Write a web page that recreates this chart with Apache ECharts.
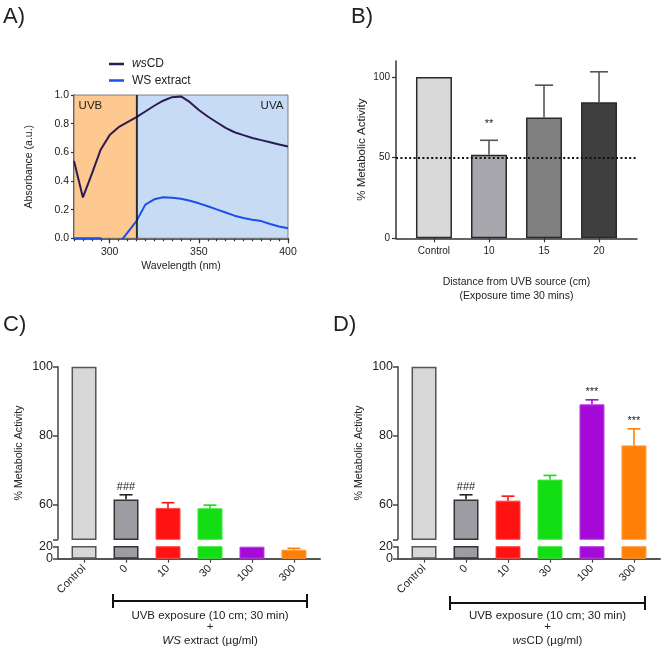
<!DOCTYPE html>
<html><head><meta charset="utf-8">
<script src="https://cdn.jsdelivr.net/npm/echarts@6/dist/echarts.min.js"></script>
<style>html,body{margin:0;padding:0;background:#fff}#c{width:661px;height:648px}</style>
</head><body><div id="c"></div>
<script>
// ---------- DATA ----------
const wavelengths = [280,285,290,295,300,305,310,315,320,325,330,335,340,345,350,355,360,365,370,375,380,385,390,395,400];
const wsCDAbs = [0.54,0.285,0.45,0.62,0.72,0.775,0.81,0.845,0.885,0.925,0.96,0.985,0.99,0.95,0.895,0.85,0.81,0.77,0.74,0.72,0.70,0.685,0.67,0.655,0.64];
const wsExtractAbs = [0,0,0,0,-0.1,-0.04,0.04,0.12,0.235,0.272,0.286,0.283,0.276,0.262,0.244,0.224,0.202,0.18,0.158,0.142,0.13,0.12,0.1,0.082,0.07];
const uvbRange = [280, 315];
const uvaRange = [315, 400];
const absTicks = [0, 0.2, 0.4, 0.6, 0.8, 1.0];
const wlLabels = [300, 350, 400];

const distCats = ['Control', '10', '15', '20'];
const distValues = [100, 51.9, 74.9, 84.4];
const distErrTop = [null, 60.8, 95.0, 103.3];
const distMarks = ['', '**', '', ''];
const distTicks = [0, 50, 100];
const halfLine = 50;

const doseCats = ['Control', '0', '10', '30', '100', '300'];
const extractValues = [100, 61.5, 59.1, 59.0, 20, 15];
const extractErrTop = [null, 62.9, 60.6, 59.9, null, 17.3];
const extractMarks = ['', '###', '', '', '', ''];
const cdValues = [100, 61.5, 61.2, 67.3, 89.1, 77.2];
const cdErrTop = [null, 62.9, 62.5, 68.5, 90.4, 82.0];
const cdMarks = ['', '###', '', '', '***', '***'];
const upperTicks = [60, 80, 100];
const lowerTicks = [0, 20];

// ---------- STYLE ----------
const FONT = '"Liberation Sans", Arial, sans-serif';
const TXT = '#222';
const AX = '#333';
const distColors = ['#d9d9d9', '#a7a6ac', '#808080', '#3f3f3f'];
const doseColors = ['#d7d7d7', '#9d9ca2', '#ff1212', '#13dd13', '#a60ad8', '#ff8004'];
const doseBorders = ['#555', '#333', '#ff4a4a', '#3fe83f', '#b83ee0', '#ff9a3a'];
const doseErrColors = ['#333', '#222', '#ff1212', '#13dd13', '#a60ad8', '#ff8004'];

const chart = echarts.init(document.getElementById('c'), null, {renderer: 'canvas'});

function errSeries(xi, yi, values, tops, marks, colors, capW, lo, hi, markGap) {
  const data = [];
  values.forEach((v, i) => {
    if (tops[i] != null && v >= lo && v <= hi) data.push([i, v, Math.min(tops[i], hi)]);
  });
  return {
    type: 'custom', xAxisIndex: xi, yAxisIndex: yi, z: 4, silent: true, clip: false,
    encode: {x: 0, y: [1, 2]},
    data: data,
    renderItem: function (params, api) {
      const x = api.value(0), v = api.value(1), t = api.value(2);
      const p0 = api.coord([x, v]), p1 = api.coord([x, t]);
      const c = Array.isArray(colors) ? colors[x] : colors;
      const children = [
        {type: 'line', shape: {x1: p0[0], y1: p0[1], x2: p1[0], y2: p1[1]}, style: {stroke: c, lineWidth: 1.6}},
        {type: 'line', shape: {x1: p1[0] - capW / 2, y1: p1[1], x2: p1[0] + capW / 2, y2: p1[1]}, style: {stroke: c, lineWidth: 1.6}}
      ];
      if (marks && marks[x]) {
        children.push({type: 'text', x: p1[0], y: p1[1] - markGap,
          style: {text: marks[x], fill: TXT, fontSize: 11, fontFamily: FONT, align: 'center', verticalAlign: 'bottom'}});
      }
      return {type: 'group', children: children};
    }
  };
}
function barSeries(xi, yi, values, colors, borders, width, lo) {
  return {
    type: 'bar', xAxisIndex: xi, yAxisIndex: yi, barWidth: width, clip: true, z: 2,
    data: values.map((v, i) => ({
      value: [i, v < lo ? '-' : v],
      itemStyle: {color: colors[i], borderColor: borders[i], borderWidth: (i < 2 ? 1.5 : 1)}
    }))
  };
}

const tickLbl = (size) => ({color: TXT, fontSize: size, fontFamily: FONT, hideOverlap: false});
const line = (c, w, show) => ({show: show !== false, onZero: false, lineStyle: {color: c, width: w}});

const xAxes = [
  {gridIndex: 0, type: 'value', min: 280, max: 400, position: 'bottom',
   axisLine: line(AX, 1.5),
   axisTick: {show: true, length: 3, customValues: wavelengths, lineStyle: {color: AX, width: 1.2}},
   axisLabel: {show: false}, splitLine: {show: false}},
  {gridIndex: 0, type: 'value', min: 280, max: 400, position: 'bottom', offset: 0,
   axisLine: line(AX, 1.5, false),
   axisTick: {show: true, length: 5, customValues: wlLabels, lineStyle: {color: AX, width: 1.2}},
   axisLabel: Object.assign({customValues: wlLabels, margin: 8}, tickLbl(10.5)),
   splitLine: {show: false},
   name: 'Wavelength (nm)', nameLocation: 'middle', nameGap: 22,
   nameTextStyle: {color: TXT, fontSize: 10.5, fontFamily: FONT}},
  {gridIndex: 1, type: 'value', min: -0.69, max: 3.69, position: 'bottom',
   axisLine: line(AX, 1.5),
   axisTick: {show: true, length: 4, customValues: [0, 1, 2, 3], lineStyle: {color: AX, width: 1.2}},
   axisLabel: Object.assign({customValues: [0, 1, 2, 3], margin: 8, formatter: v => distCats[Math.round(v)]}, tickLbl(10)),
   splitLine: {show: false},
   name: 'Distance from UVB source (cm)\n(Exposure time 30 mins)', nameLocation: 'middle', nameGap: 36,
   nameTextStyle: {color: TXT, fontSize: 10.5, lineHeight: 14.7, fontFamily: FONT}},
];
const yAxes = [
  {gridIndex: 0, type: 'value', min: 0, max: 1, position: 'left',
   axisLine: line(AX, 1.5),
   axisTick: {show: true, length: 3, customValues: absTicks, lineStyle: {color: AX, width: 1.2}},
   axisLabel: Object.assign({customValues: absTicks, margin: 5, formatter: v => v.toFixed(1)}, tickLbl(10.5)),
   splitLine: {show: false},
   name: 'Absorbance (a.u.)', nameLocation: 'middle', nameGap: 39,
   nameTextStyle: {color: TXT, fontSize: 10.5, fontFamily: FONT}},
  {gridIndex: 1, type: 'value', min: 0, max: 110, position: 'left',
   axisLine: line(AX, 1.5),
   axisTick: {show: true, length: 4, customValues: distTicks, lineStyle: {color: AX, width: 1.2}},
   axisLabel: Object.assign({customValues: distTicks, margin: 6}, tickLbl(10)),
   splitLine: {show: false},
   name: '% Metabolic Activity', nameLocation: 'middle', nameGap: 28,
   nameTextStyle: {color: TXT, fontSize: 11.5, fontFamily: FONT}},
];

const panels = [
  {vals: extractValues, tops: extractErrTop, marks: extractMarks},
  {vals: cdValues, tops: cdErrTop, marks: cdMarks}
];
const lowerLabelAxes = [];
panels.forEach((p, k) => {
  const gUp = 2 + k * 2, gLo = 3 + k * 2;
  xAxes.push({gridIndex: gUp, type: 'value', min: -0.62, max: 5.62, position: 'bottom',
    axisLine: line('#444', 1, false), axisTick: {show: false}, axisLabel: {show: false}, splitLine: {show: false}});
  xAxes.push({gridIndex: gLo, type: 'value', min: -0.62, max: 5.62, position: 'bottom',
    axisLine: line('#555', 2),
    axisTick: {show: true, length: 4, customValues: [0,1,2,3,4,5], lineStyle: {color: '#444', width: 1.2}},
    axisLabel: Object.assign({customValues: [0,1,2,3,4,5], rotate: 45, margin: 8,
      formatter: v => doseCats[Math.round(v)]}, tickLbl(11)),
    splitLine: {show: false}});
  yAxes.push({gridIndex: gUp, type: 'value', min: 50, max: 100, position: 'left',
    axisLine: line('#444', 1.5),
    axisTick: {show: true, length: 5, customValues: [50].concat(upperTicks), lineStyle: {color: '#444', width: 1.5}},
    axisLabel: Object.assign({customValues: upperTicks, margin: 5}, tickLbl(12.5)),
    splitLine: {show: false},
    name: '% Metabolic Activity', nameLocation: 'middle', nameGap: 33,
    nameTextStyle: {color: TXT, fontSize: 10.7, fontFamily: FONT}});
  // lower segment: one axis per label so neither label is dropped for overlapping
  lowerTicks.forEach((t, j) => {
    yAxes.push({gridIndex: gLo, type: 'value', min: 0, max: 20, position: 'left', offset: 0,
      axisLine: line('#444', 1.5, j === 0),
      axisTick: {show: true, length: 5, customValues: [t], lineStyle: {color: '#444', width: 1.5}},
      axisLabel: Object.assign({customValues: [t], margin: 5}, tickLbl(12.5)),
      splitLine: {show: false}});
  });
});

const series = [
  {type: 'line', name: '_bg', xAxisIndex: 0, yAxisIndex: 0, z: 1, silent: true,
   data: wavelengths.map((w, i) => [w, wsCDAbs[i]]), showSymbol: false, symbol: 'none', lineStyle: {opacity: 0},
   markArea: {silent: true, data: [
     [{xAxis: uvbRange[0], name: 'UVB', itemStyle: {color: '#fdc990', borderColor: '#666', borderWidth: 0.8},
       label: {show: true, position: 'insideTopLeft', distance: 5, color: TXT, fontSize: 11.5, fontFamily: FONT}},
      {xAxis: uvbRange[1]}],
     [{xAxis: uvaRange[0], name: 'UVA', itemStyle: {color: '#c7dbf4', borderColor: '#666', borderWidth: 0.8},
       label: {show: true, position: 'insideTopRight', distance: 5, color: TXT, fontSize: 11.5, fontFamily: FONT}},
      {xAxis: uvaRange[1]}]
   ]}},
  {type: 'line', name: '_sep', xAxisIndex: 0, yAxisIndex: 0, z: 2, silent: true, data: [],
   markLine: {silent: true, symbol: 'none', label: {show: false},
     lineStyle: {color: '#111', width: 1.5, type: 'solid'}, data: [{xAxis: uvbRange[1]}]}},
  {type: 'line', name: 'wsCD', xAxisIndex: 0, yAxisIndex: 0, z: 3, clip: true,
   data: wavelengths.map((w, i) => [w, wsCDAbs[i]]), showSymbol: false, symbol: 'none',
   lineStyle: {color: '#2d1a55', width: 2}, itemStyle: {color: '#2d1a55'}},
  {type: 'line', name: 'WS extract', xAxisIndex: 0, yAxisIndex: 0, z: 3, clip: true,
   data: wavelengths.map((w, i) => [w, wsExtractAbs[i]]), showSymbol: false, symbol: 'none',
   lineStyle: {color: '#1c50e6', width: 2}, itemStyle: {color: '#1c50e6'}},
  {type: 'bar', xAxisIndex: 2, yAxisIndex: 1, barWidth: 36, z: 2,
   data: distValues.map((v, i) => ({value: [i, v], itemStyle: {color: distColors[i]}})),
   itemStyle: {borderColor: '#2a2a2a', borderWidth: 1.5},
   markLine: {silent: true, symbol: 'none', label: {show: false},
     lineStyle: {color: '#111', width: 2, type: [2, 2.4]}, data: [{yAxis: halfLine}]}},
  errSeries(2, 1, distValues, distErrTop, distMarks, '#555', 18, 0, 110, 11),
];

panels.forEach((p, k) => {
  const xu = 3 + k * 2, xl = 4 + k * 2, yu = 2 + k * 3, yl = 3 + k * 3;
  series.push(barSeries(xu, yu, p.vals, doseColors, doseBorders, 25, 50));
  series.push(barSeries(xl, yl, p.vals, doseColors, doseBorders, 25, 0));
  series.push(errSeries(xu, yu, p.vals, p.tops, p.marks, doseErrColors, 13, 50, 100, 2));
  series.push(errSeries(xl, yl, p.vals, p.tops, null, doseErrColors, 13, 0, 20, 2));
});

const gridBase = {outerBoundsMode: 'none', containLabel: false};
const option = {
  animation: false,
  backgroundColor: '#fff',
  textStyle: {fontFamily: FONT},
  grid: [
    Object.assign({left: 74, top: 95, width: 214, height: 143.3}, gridBase),
    Object.assign({left: 396, top: 61, width: 241, height: 177.3}, gridBase),
    Object.assign({left: 58, top: 366.7, width: 262, height: 172.6}, gridBase),
    Object.assign({left: 58, top: 546.7, width: 262, height: 12}, gridBase),
    Object.assign({left: 398, top: 366.7, width: 262, height: 172.6}, gridBase),
    Object.assign({left: 398, top: 546.7, width: 262, height: 12}, gridBase),
  ],
  legend: {
    data: ['wsCD', 'WS extract'], orient: 'vertical', left: 109, top: 58, padding: 0,
    icon: 'rect', itemWidth: 15, itemHeight: 2.5, itemGap: 4.5,
    formatter: n => n === 'wsCD' ? '{i|ws}CD' : n,
    textStyle: {color: TXT, fontSize: 12, fontFamily: FONT, padding: [0, 0, 0, 3],
      rich: {i: {fontStyle: 'italic', fontSize: 12, fontFamily: FONT, color: TXT}}}
  },
  xAxis: xAxes,
  yAxis: yAxes,
  series: series,
  graphic: [
    {type: 'text', left: 3, top: 6, style: {text: 'A)', fontSize: 22, fill: TXT, fontFamily: FONT}},
    {type: 'text', left: 351, top: 6, style: {text: 'B)', fontSize: 22, fill: TXT, fontFamily: FONT}},
    {type: 'text', left: 3, top: 314, style: {text: 'C)', fontSize: 22, fill: TXT, fontFamily: FONT}},
    {type: 'text', left: 333, top: 314, style: {text: 'D)', fontSize: 22, fill: TXT, fontFamily: FONT}},
    {type: 'polyline', shape: {points: [[113, 601], [307, 601]]}, style: {stroke: '#111', lineWidth: 2}},
    {type: 'polyline', shape: {points: [[113, 594], [113, 608]]}, style: {stroke: '#111', lineWidth: 2}},
    {type: 'polyline', shape: {points: [[307, 594], [307, 608]]}, style: {stroke: '#111', lineWidth: 2}},
    {type: 'text', x: 210, y: 616, style: {text: 'UVB exposure (10 cm; 30 min)', fontSize: 11.5, fill: TXT, fontFamily: FONT, align: 'center', verticalAlign: 'middle'}},
    {type: 'text', x: 210, y: 627, style: {text: '+', fontSize: 11.5, fill: TXT, fontFamily: FONT, align: 'center', verticalAlign: 'middle'}},
    {type: 'text', x: 210, y: 641, style: {text: '{i|WS} extract (µg/ml)', fontSize: 11.5, fill: TXT, fontFamily: FONT, align: 'center', verticalAlign: 'middle',
      rich: {i: {fontStyle: 'italic', fontSize: 11.5, fontFamily: FONT, fill: TXT}}}},
    {type: 'polyline', shape: {points: [[450, 603], [645, 603]]}, style: {stroke: '#111', lineWidth: 2}},
    {type: 'polyline', shape: {points: [[450, 596], [450, 610]]}, style: {stroke: '#111', lineWidth: 2}},
    {type: 'polyline', shape: {points: [[645, 596], [645, 610]]}, style: {stroke: '#111', lineWidth: 2}},
    {type: 'text', x: 547.5, y: 616, style: {text: 'UVB exposure (10 cm; 30 min)', fontSize: 11.5, fill: TXT, fontFamily: FONT, align: 'center', verticalAlign: 'middle'}},
    {type: 'text', x: 547.5, y: 627, style: {text: '+', fontSize: 11.5, fill: TXT, fontFamily: FONT, align: 'center', verticalAlign: 'middle'}},
    {type: 'text', x: 547.5, y: 641, style: {text: '{i|ws}CD (µg/ml)', fontSize: 11.5, fill: TXT, fontFamily: FONT, align: 'center', verticalAlign: 'middle',
      rich: {i: {fontStyle: 'italic', fontSize: 11.5, fontFamily: FONT, fill: TXT}}}},
  ]
};
chart.setOption(option);
</script>
</body></html>
